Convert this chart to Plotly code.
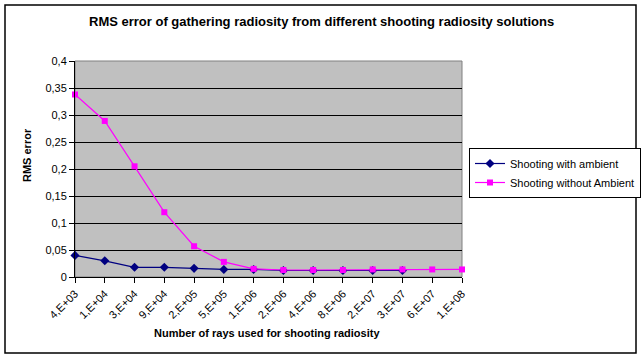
import plotly.graph_objects as go

categories = ["4,E+03", "1,E+04", "3,E+04", "9,E+04", "2,E+05", "5,E+05", "1,E+06",
              "2,E+06", "4,E+06", "8,E+06", "2,E+07", "3,E+07", "6,E+07", "1,E+08"]
with_ambient = [0.040, 0.030, 0.018, 0.018, 0.016, 0.014, 0.014,
                0.012, 0.012, 0.012, 0.012, 0.012, None, None]
without_ambient = [0.338, 0.289, 0.205, 0.120, 0.057, 0.028, 0.015,
                   0.013, 0.013, 0.013, 0.014, 0.014, 0.014, 0.014]
y_ticks = [0, 0.05, 0.1, 0.15, 0.2, 0.25, 0.3, 0.35, 0.4]
y_ticktext = ["0", "0,05", "0,1", "0,15", "0,2", "0,25", "0,3", "0,35", "0,4"]

x_idx = list(range(len(categories)))
FONT = "Liberation Sans, Arial, sans-serif"

fig = go.Figure()
fig.add_trace(go.Scatter(
    x=x_idx, y=with_ambient, mode="lines+markers", name="Shooting with ambient",
    line=dict(color="#000080", width=1.2),
    marker=dict(symbol="diamond", size=7, color="#000080"),
    cliponaxis=False, connectgaps=False))
fig.add_trace(go.Scatter(
    x=x_idx, y=without_ambient, mode="lines+markers", name="Shooting without Ambient",
    line=dict(color="#FF00FF", width=1.2),
    marker=dict(symbol="square", size=6, color="#FF00FF"),
    cliponaxis=False))

L, R, T, B = 75, 462, 61, 277
W, H = 642, 360
pw, ph = R - L, B - T

def px_x(x):
    return (x - L) / pw

def px_y(y):
    return (B - y) / ph

fig.update_layout(
    width=W, height=H,
    margin=dict(l=L, r=W - R, t=T, b=H - B, pad=0, autoexpand=False),
    paper_bgcolor="white", plot_bgcolor="#C0C0C0",
    font=dict(family=FONT, size=11, color="black"),
    showlegend=True,
    legend=dict(x=px_x(469), y=px_y(148), xanchor="left", yanchor="top",
                bordercolor="black", borderwidth=1, bgcolor="white",
                font=dict(size=11, family=FONT), itemwidth=30,
                tracegroupgap=0),
    xaxis=dict(range=[0, 13], tickmode="array", tickvals=x_idx, ticktext=categories,
               tickangle=-45, ticks="outside", ticklen=5, tickcolor="black",
               showline=True, linecolor="black", linewidth=1, showgrid=False,
               zeroline=False, tickfont=dict(size=11, family=FONT), automargin=False),
    yaxis=dict(range=[0, 0.4], tickmode="array", tickvals=y_ticks, ticktext=y_ticktext,
               ticks="outside", ticklen=5, tickcolor="black",
               showline=True, linecolor="black", linewidth=1,
               showgrid=True, gridcolor="black", gridwidth=1, zeroline=False,
               tickfont=dict(size=11, family=FONT), automargin=False),
    annotations=[
        dict(text="<b>RMS error of gathering radiosity from different shooting radiosity solutions</b>",
             xref="paper", yref="paper", x=px_x(321), y=px_y(21), xanchor="center",
             yanchor="middle", showarrow=False, font=dict(size=13, family=FONT)),
        dict(text="<b>RMS error</b>", xref="paper", yref="paper", x=px_x(27), y=px_y(155),
             xanchor="center", yanchor="middle", textangle=-90, showarrow=False,
             font=dict(size=11, family=FONT)),
        dict(text="<b>Number of rays used for shooting radiosity</b>", xref="paper", yref="paper",
             x=px_x(267), y=px_y(333), xanchor="center", yanchor="middle", showarrow=False,
             font=dict(size=11, family=FONT)),
    ],
    shapes=[
        dict(type="rect", xref="paper", yref="paper", x0=px_x(5), x1=px_x(636),
             y0=px_y(353), y1=px_y(5), line=dict(color="black", width=1.5),
             fillcolor="rgba(0,0,0,0)", layer="above"),
        dict(type="rect", xref="paper", yref="paper", x0=0, x1=1, y0=0, y1=1,
             line=dict(color="#808080", width=1), fillcolor="rgba(0,0,0,0)", layer="below"),
    ],
)

fig.write_html("out.html",
               config={"displayModeBar": False},
               post_script="document.body.style.margin='0';document.body.style.overflow='hidden';")
